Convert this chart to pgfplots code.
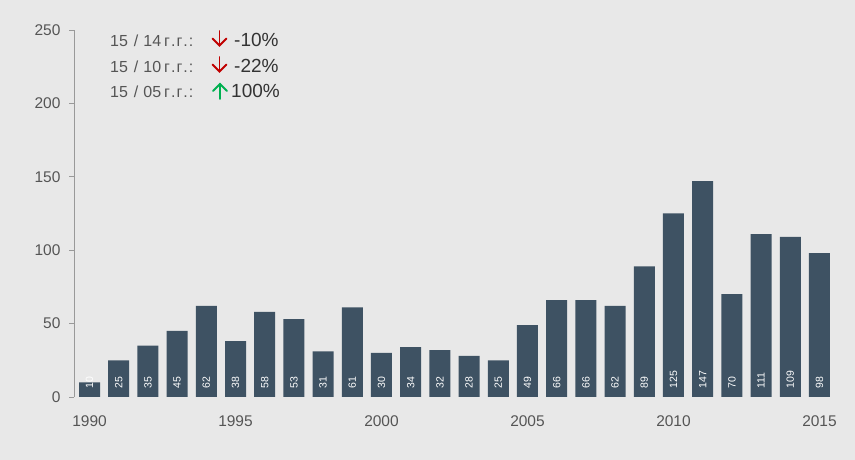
\documentclass[border=0pt]{standalone}
\usepackage{pgfplots}
\pgfplotsset{compat=1.18}
\usepackage{pgfplotstable}
\usepackage{fontspec}
\setmainfont{Liberation Sans}
\definecolor{bg}{HTML}{E8E8E8}
\definecolor{barc}{HTML}{3E5263}
\definecolor{tickc}{HTML}{555555}
\definecolor{axc}{HTML}{999999}
\definecolor{upc}{HTML}{00B050}
\definecolor{downc}{HTML}{C00000}
\pgfplotstableread{
year v
1990 10
1991 25
1992 35
1993 45
1994 62
1995 38
1996 58
1997 53
1998 31
1999 61
2000 30
2001 34
2002 32
2003 28
2004 25
2005 49
2006 66
2007 66
2008 62
2009 89
2010 125
2011 147
2012 70
2013 111
2014 109
2015 98
}\datatable
\newcommand{\ggtxt}{г\hspace{1pt}.\hspace{1pt}г\hspace{1pt}.\hspace{1pt}:}
\begin{document}
\begin{tikzpicture}[x=1pt,y=1pt]
\fill[bg] (0,0) rectangle (855,460);
\begin{axis}[
  at={(74pt,63pt)}, anchor=south west,
  scale only axis, width=760pt, height=367pt,
  xmin=1989.469, xmax=2015.497, ymin=0, ymax=250,
  axis x line*=bottom, axis y line*=left,
  x axis line style={draw=none},
  y axis line style={draw=axc, line width=0.8pt, -},
  xtick={1990,1995,2000,2005,2010,2015},
  ytick={0,50,100,150,200,250},
  xtick style={draw=none},
  ytick style={draw=axc, line width=0.8pt},
  tick align=outside, major tick length=5pt,
  /pgf/number format/assume math mode=true,
  /pgf/number format/1000 sep={},
  ticklabel style={font=\fontsize{15.5}{18}\selectfont, text=tickc},
  yticklabel style={xshift=-5pt},
  xticklabel style={yshift=-10pt},
  clip=false,
]
\addplot[ybar, bar width=21pt, fill=barc, draw=none] table[x=year, y=v] {\datatable};
\addplot[draw=none, mark=none, nodes near coords, point meta=explicit symbolic,
  every node near coord/.style={rotate=90, anchor=west, inner xsep=8.5pt, inner ysep=0pt,
    text=white, font=\fontsize{10.5}{12}\selectfont}]
  table[x=year, y expr=0, meta=v] {\datatable};
\end{axis}
% annotation block
\begin{scope}[font=\fontsize{16}{19}\selectfont]
\node[anchor=base west, inner sep=0, text=tickc] at (110,413) {15\hspace{6pt}/\hspace{5pt}14\hspace{3pt}\ggtxt};
\node[anchor=base west, inner sep=0, text=tickc] at (110,387) {15\hspace{6pt}/\hspace{5pt}10\hspace{3pt}\ggtxt};
\node[anchor=base west, inner sep=0, text=tickc] at (110,362) {15\hspace{6pt}/\hspace{5pt}05\hspace{3pt}\ggtxt};
\end{scope}
\begin{scope}[font=\fontsize{19}{22}\selectfont]
\node[anchor=base west, inner sep=0, text=black!80] at (234,413) {-10\%};
\node[anchor=base west, inner sep=0, text=black!80] at (234,387) {-22\%};
\node[anchor=base west, inner sep=0, text=black!80] at (231,362) {100\%};
\end{scope}
\begin{scope}[line width=1.8pt, line cap=round, line join=miter]
\draw[downc] (219.5,429) -- (219.5,414.5);
\draw[downc] (212.5,421.5) -- (219.5,414.5) -- (226.5,421.5);
\draw[downc] (219.5,403) -- (219.5,388.5);
\draw[downc] (212.5,395.5) -- (219.5,388.5) -- (226.5,395.5);
\draw[upc] (220,361) -- (220,376);
\draw[upc] (213,369) -- (220,376) -- (227,369);
\end{scope}
\pgfresetboundingbox
\useasboundingbox (0,0) rectangle (855,460);
\end{tikzpicture}
\end{document}
